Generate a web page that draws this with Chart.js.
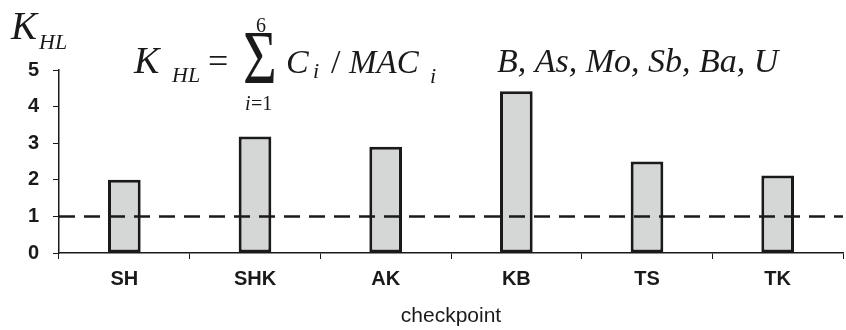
<!DOCTYPE html>
<html>
<head>
<meta charset="utf-8">
<script src="https://cdn.jsdelivr.net/npm/chart.js@4"></script>
<style>
  body { margin: 0; background: #fff; }
  #wrap { width: 846px; height: 330px; }
</style>
</head>
<body>
<div id="wrap"><canvas id="chart"></canvas></div>
<script>
const checkpoints = ['SH', 'SHK', 'AK', 'KB', 'TS', 'TK']
const kHL = [2.0, 3.18, 2.9, 4.42, 2.5, 2.12]
const yTicks = [0, 1, 2, 3, 4, 5]
const macLevel = 1

const ink = '#1a1a1a'
const sans = '"Liberation Sans", Arial, sans-serif'
const serif = '"Liberation Serif", "Times New Roman", serif'

// dashed line at the MAC level, across the whole plot
const macLine = {
  id: 'macLine',
  afterDatasetsDraw (chart) {
    const { ctx, chartArea } = chart
    const y = chart.scales.y.getPixelForValue(macLevel)
    ctx.save()
    ctx.strokeStyle = ink
    ctx.lineWidth = 2.5
    ctx.setLineDash([16, 9])
    ctx.beginPath()
    ctx.moveTo(chartArea.left, y)
    ctx.lineTo(chartArea.right, y)
    ctx.stroke()
    ctx.restore()
  }
}

// axis symbol and formula text
const formula = {
  id: 'formula',
  afterDraw (chart) {
    const ctx = chart.ctx
    const it = (s) => `italic ${s}px ${serif}`
    const up = (s) => `${s}px ${serif}`
    function put (txt, font, x, y) { ctx.font = font; ctx.fillText(txt, x, y) }
    ctx.save()
    ctx.fillStyle = ink
    ctx.textBaseline = 'alphabetic'
    ctx.textAlign = 'left'

    put('K', it(39), 11, 39)
    put('HL', it(22), 39, 49)

    put('K', it(38), 134, 73)
    put('HL', it(22), 172, 82)
    put('=', up(36), 208, 73)
    ctx.save()
    ctx.translate(243, 83)
    ctx.scale(1, 1.3)
    put('\u03A3', up(58), 0, 0)
    ctx.restore()
    put('6', up(20), 256, 32)
    put('i', it(20), 245, 110)
    put('=1', up(20), 251, 110)
    put('C', it(34), 286, 73)
    put('i', it(22), 313, 78)
    put('/', up(34), 331, 73)
    put('MAC', it(33), 349, 73)
    put('i', it(22), 430, 83)
    put('B, As, Mo, Sb, Ba, U', it(34), 497, 72)
    ctx.restore()
  }
}

new Chart(document.getElementById('chart'), {
  type: 'bar',
  data: {
    labels: checkpoints,
    datasets: [{
      data: kHL,
      backgroundColor: '#d5d7d7',
      borderColor: ink,
      borderWidth: 3,
      borderSkipped: false,
      barPercentage: 0.25,
      categoryPercentage: 1
    }]
  },
  options: {
    responsive: true,
    maintainAspectRatio: false,
    animation: false,
    layout: { padding: { top: 70, right: 3, left: 0, bottom: 0 } },
    plugins: {
      legend: { display: false },
      tooltip: { enabled: false }
    },
    scales: {
      x: {
        offset: true,
        grid: { offset: true, drawOnChartArea: false, drawTicks: true, tickLength: 6, color: ink },
        border: { display: true, color: ink, width: 1.5 },
        ticks: { color: ink, font: { family: sans, size: 20, weight: 'bold' }, padding: 8 },
        title: {
          display: true,
          text: 'checkpoint',
          color: ink,
          font: { family: sans, size: 21 },
          padding: { top: 0, bottom: 1 }
        },
        afterFit (scale) { scale.height = 77 }
      },
      y: {
        min: 0,
        max: 5,
        afterBuildTicks (scale) { scale.ticks = yTicks.map(v => ({ value: v })) },
        grid: { drawOnChartArea: false, drawTicks: true, tickLength: 6, color: ink },
        border: { display: true, color: ink, width: 1.5 },
        ticks: { color: ink, font: { family: sans, size: 20, weight: 'bold' }, padding: 14 },
        afterFit (scale) { scale.width = 59 }
      }
    }
  },
  plugins: [macLine, formula]
})
</script>
</body>
</html>
